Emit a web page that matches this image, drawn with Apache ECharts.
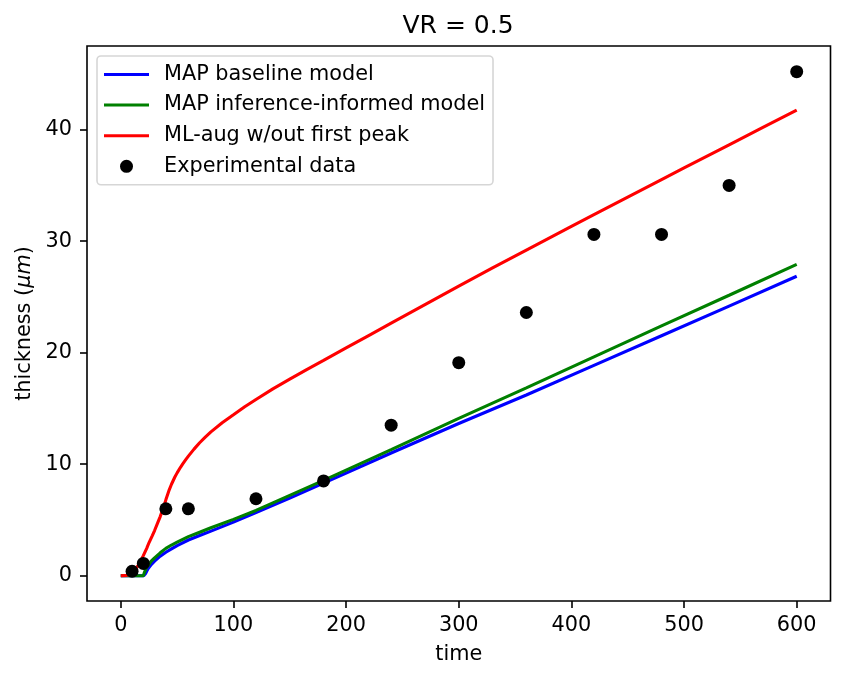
<!DOCTYPE html>
<html>
<head>
<meta charset="utf-8">
<style>html,body{margin:0;padding:0;background:#fff}#chart{width:845px;height:679px}</style>
<script src="https://cdn.jsdelivr.net/npm/echarts@6/dist/echarts.min.js"></script>
</head>
<body>
<div id="chart"></div>
<script>
// values, [time, thickness]
var baseline = [[0,0],[20.5,0],[21.5,0.1],[22,0.2],[23,0.4],[24,0.6],[25,0.75],[27,1.0],[30,1.3],[35,1.75],[40,2.1],[45,2.4],[50,2.7],[60,3.2],[70,3.6],[80,4.0],[100,4.8],[120,5.65],[150,6.95],[180,8.3],[240,11.0],[300,13.65],[360,16.2],[420,18.86],[480,21.52],[540,24.18],[600,26.85]];
var informed = [[0,0],[20,0],[21,0.3],[22,0.55],[23,0.75],[25,1.0],[27,1.3],[30,1.6],[35,2.05],[40,2.45],[45,2.75],[50,3.0],[60,3.5],[70,3.9],[80,4.3],[100,5.05],[120,5.85],[150,7.2],[180,8.55],[240,11.3],[300,14.1],[360,16.85],[420,19.63],[480,22.4],[540,25.15],[600,27.92]];
var mlAug = [[0,0],[5,0.03],[8,0.1],[10,0.2],[12,0.4],[15,0.85],[18,1.4],[20,1.8],[23,2.45],[25,2.95],[28,3.6],[30,4.05],[33,4.8],[35,5.3],[38,6.15],[40,6.8],[43,7.7],[45,8.2],[48,8.85],[50,9.22],[53,9.72],[55,10.02],[58,10.45],[60,10.72],[65,11.35],[70,11.92],[75,12.42],[80,12.9],[90,13.72],[100,14.43],[110,15.15],[120,15.8],[135,16.75],[150,17.62],[165,18.48],[180,19.3],[200,20.42],[220,21.53],[240,22.64],[270,24.3],[300,25.96],[330,27.6],[360,29.2],[400,31.32],[420,32.37],[450,33.95],[480,35.52],[500,36.56],[540,38.64],[570,40.2],[600,41.74]];
var experimental = [[10,0.4],[20,1.1],[40,6.0],[60,6.0],[120,6.9],[180,8.5],[240,13.5],[300,19.1],[360,23.6],[420,30.6],[480,30.6],[540,35.0],[600,45.2]];
var xTicks = [0,100,200,300,400,500,600];
var yTicks = [0,10,20,30,40];

var fontName = 'DejaVu Sans';
var lineIcon = 'path://M0 0H45V3H0Z';
var myChart = echarts.init(document.getElementById('chart'));
function curve(name, data, color) {
	return {
		name: name,
		type: 'line',
		data: data,
		showSymbol: false,
		symbol: 'none',
		lineStyle: {color: color, width: 3.1},
		itemStyle: {color: color}
	};
}
var option = {
	animation: false,
	backgroundColor: '#fff',
	textStyle: {fontFamily: fontName, color: '#000'},
	title: {
		text: 'VR = 0.5',
		left: 453,
		top: 9,
		textAlign: 'center',
		textStyle: {fontFamily: fontName, fontWeight: 'normal', fontSize: 25, color: '#000'}
	},
	grid: {
		show: true,
		left: 87,
		right: 14.5,
		top: 46,
		bottom: 78,
		containLabel: false,
		borderColor: '#000',
		borderWidth: 1.6
	},
	legend: {
		left: 97,
		top: 56,
		orient: 'vertical',
		selectedMode: false,
		padding: [8, 8, 8, 7],
		itemWidth: 45,
		itemHeight: 13,
		itemGap: 9.6,
		borderColor: '#d6d6d6',
		borderWidth: 1.6,
		borderRadius: 4,
		backgroundColor: 'rgba(255,255,255,0.8)',
		textStyle: {fontFamily: fontName, fontSize: 20.8, color: '#000', padding: [0, 0, 0, 10]},
		data: [
			{name: 'MAP baseline model', icon: lineIcon},
			{name: 'MAP inference-informed model', icon: lineIcon},
			{name: 'ML-aug w/out first peak', icon: lineIcon},
			{name: 'Experimental data', icon: 'circle'}
		]
	},
	xAxis: {
		type: 'value',
		min: -30,
		max: 630,
		name: 'time',
		nameLocation: 'middle',
		nameGap: 43,
		nameTextStyle: {fontFamily: fontName, fontSize: 20.8, color: '#000'},
		splitLine: {show: false},
		axisLine: {show: false, onZero: false},
		axisTick: {show: true, length: 7, lineStyle: {color: '#000', width: 1.6}, customValues: xTicks},
		axisLabel: {fontFamily: fontName, fontSize: 20.8, color: '#000', margin: 14, customValues: xTicks}
	},
	yAxis: {
		type: 'value',
		min: -2.27,
		max: 47.5,
		name: '{n|thickness (}{i|μm}{n|)}',
		nameLocation: 'middle',
		nameGap: 51,
		nameTextStyle: {
			rich: {
				n: {fontFamily: fontName, fontSize: 20.8, color: '#000'},
				i: {fontFamily: fontName, fontStyle: 'italic', fontSize: 20.8, color: '#000'}
			}
		},
		splitLine: {show: false},
		axisLine: {show: false, onZero: false},
		axisTick: {show: true, length: 7, lineStyle: {color: '#000', width: 1.6}, customValues: yTicks},
		axisLabel: {fontFamily: fontName, fontSize: 20.8, color: '#000', margin: 15, verticalAlign: 'middle', lineHeight: 26, padding: [6, 0, 0, 0], customValues: yTicks}
	},
	series: [
		curve('MAP baseline model', baseline, '#0000ff'),
		curve('MAP inference-informed model', informed, '#008000'),
		curve('ML-aug w/out first peak', mlAug, '#ff0000'),
		{
			name: 'Experimental data',
			type: 'scatter',
			data: experimental,
			symbol: 'circle',
			symbolSize: 13,
			itemStyle: {color: '#000', opacity: 1},
			z: 5
		}
	]
};
myChart.setOption(option);
window.addEventListener('resize', function() {
	myChart.resize();
});
</script>
</body>
</html>
